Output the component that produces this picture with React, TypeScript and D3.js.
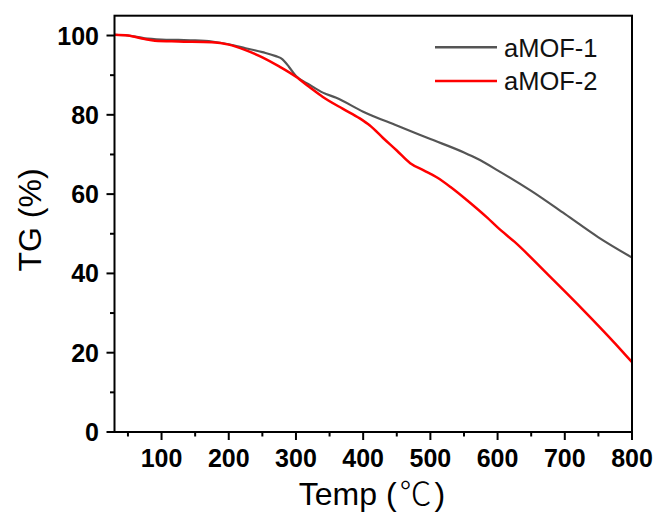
import React from "react";
import * as d3 from "d3";

const temp1 = [30, 50, 75, 100, 125, 150, 175, 200, 225, 250, 270, 280, 290, 300, 320, 340, 360, 400, 450, 500, 550, 570, 600, 650, 700, 750, 800];
const tg1 = [100.2, 100.0, 99.3, 99.0, 98.9, 98.8, 98.5, 97.8, 96.8, 95.8, 94.8, 94.0, 92.0, 89.8, 87.6, 85.6, 84.3, 80.8, 77.3, 73.9, 70.5, 68.9, 66.0, 60.8, 55.0, 49.1, 44.0];

const temp2 = [30, 50, 75, 90, 125, 175, 200, 225, 250, 275, 300, 320, 340, 370, 395, 410, 430, 450, 470, 490, 510, 530, 555, 585, 600, 625, 675, 725, 775, 800];
const tg2 = [100.2, 100.0, 99.1, 98.7, 98.5, 98.3, 97.7, 96.3, 94.5, 92.2, 89.6, 87.0, 84.5, 81.5, 79.1, 77.3, 74.1, 71.0, 67.8, 66.0, 64.2, 61.8, 58.4, 54.0, 51.6, 48.0, 39.7, 31.2, 22.3, 17.6];

const seriesNames = ["aMOF-1", "aMOF-2"];
const seriesColors = ["#555555", "#ff0000"];
const xTicks = [100, 200, 300, 400, 500, 600, 700, 800];
const yTicks = [0, 20, 40, 60, 80, 100];

const W = 658, H = 513;
const L = 114.5, R = 632, T = 15.7, B = 432;

export default function App() {
  const x = d3.scaleLinear().domain([30, 800]).range([L, R]);
  const y = d3.scaleLinear().domain([0, 105]).range([B, T]);
  const line = d3.line<[number, number]>().x(d => x(d[0])).y(d => y(d[1])).curve(d3.curveMonotoneX);
  const series = [
    temp1.map((t, i) => [t, tg1[i]] as [number, number]),
    temp2.map((t, i) => [t, tg2[i]] as [number, number]),
  ];
  const xMinor = d3.range(50, 801, 50).filter(v => v % 100 !== 0);
  const yMinor = d3.range(10, 101, 20);
  const font = "Liberation Sans, Arial, sans-serif";
  return (
    <svg width={W} height={H} style={{ position: "absolute", left: 0, top: 0, background: "#fff" }} fontFamily={font}>
      <rect x={0} y={0} width={W} height={H} fill="#fff" />
      <defs>
        <clipPath id="plot"><rect x={L} y={T} width={R - L} height={B - T} /></clipPath>
      </defs>
      <g clipPath="url(#plot)">
        {series.map((s, i) => (
          <path key={i} d={line(s) || ""} fill="none" stroke={seriesColors[i]} strokeWidth={i === 0 ? 2.2 : 2.5} strokeLinejoin="round" />
        ))}
      </g>
      <rect x={L} y={T} width={R - L} height={B - T} fill="none" stroke="#000" strokeWidth={2} />
      {xTicks.map(v => (
        <g key={"xt" + v}>
          <line x1={x(v)} x2={x(v)} y1={B} y2={B + 8} stroke="#000" strokeWidth={2} />
          <text x={x(v)} y={466.5} textAnchor="middle" fontSize={25} fontWeight="bold" fill="#000">{v}</text>
        </g>
      ))}
      {xMinor.map(v => (
        <line key={"xm" + v} x1={x(v)} x2={x(v)} y1={B} y2={B + 4.5} stroke="#000" strokeWidth={2} />
      ))}
      {yTicks.map(v => (
        <g key={"yt" + v}>
          <line x1={L - 8} x2={L} y1={y(v)} y2={y(v)} stroke="#000" strokeWidth={2} />
          <text x={99} y={y(v) + 9} textAnchor="end" fontSize={25} fontWeight="bold" fill="#000">{v}</text>
        </g>
      ))}
      {yMinor.map(v => (
        <line key={"ym" + v} x1={L - 4.5} x2={L} y1={y(v)} y2={y(v)} stroke="#000" strokeWidth={2} />
      ))}
      <text x={372} y={505} textAnchor="middle" fontSize={32} fill="#000">Temp (<tspan dx={3} fontFamily="Noto Sans CJK SC" fontWeight={300}>℃</tspan><tspan dx={3}>)</tspan></text>
      <text transform="translate(41,220) rotate(-90)" textAnchor="middle" fontSize={32} fill="#000">TG (%)</text>
      {seriesNames.map((n, i) => (
        <g key={n}>
          <line x1={435} x2={497} y1={47.3 + i * 33.7} y2={47.3 + i * 33.7} stroke={seriesColors[i]} strokeWidth={2.5} />
          <text x={504} y={56.7 + i * 33.7} fontSize={25.5} fill="#111">{n}</text>
        </g>
      ))}
    </svg>
  );
}
